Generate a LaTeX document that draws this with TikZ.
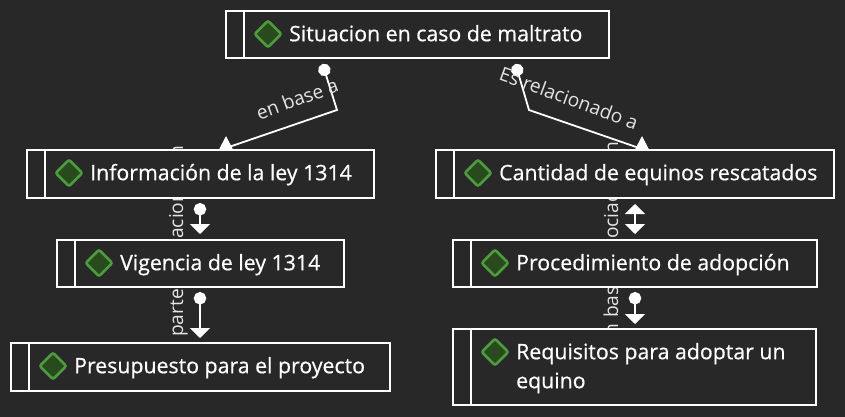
\documentclass[tikz,border=0pt]{standalone}
\usepackage{fontspec}
\setmainfont{Open Sans}
\newfontfamily\topicFont[FakeBold=0.6]{Open Sans}
\usetikzlibrary{arrows.meta}
\usetikzlibrary{shapes.geometric}
\usetikzlibrary{backgrounds}

\definecolor{canvasGray}{HTML}{282828}
\definecolor{iconGreen}{HTML}{4E9A3E}
\definecolor{iconFill}{HTML}{284A1C}
\definecolor{labelGray}{HTML}{E4E4E4}

\tikzset{
  topicBox/.style={shape=rectangle,draw=white,fill=canvasGray,line width=2pt,
    inner sep=0pt,outer sep=0pt,anchor=north west},
  topicIcon/.style={shape=diamond,draw=iconGreen,fill=iconFill,line width=2.6pt,
    inner sep=0pt,outer sep=0pt,minimum size=26.5pt,rounded corners=2pt},
  topicText/.style={text=white,inner sep=0pt,anchor=north west,align=left,
    font=\topicFont\fontsize{21.3pt}{29pt}\selectfont},
  linkLabel/.style={text=labelGray,inner sep=0pt,font=\fontsize{19.2pt}{22pt}\selectfont},
  linkLine/.style={draw=white,line width=1.8pt},
  dotTip/.style={{Circle[length=12.5pt]}-},
  dotArrow/.style={{Circle[length=12.5pt]}-{Triangle[width=20pt,length=10pt]}},
  upTip/.style={-{Triangle[width=13pt,length=13pt]}}
}

\begin{document}
\begin{tikzpicture}[x=1pt,y=-1pt]
\useasboundingbox (0,0) rectangle (845,417);
%% boxes
\foreach \nodeName/\x/\y/\w/\h/\nodeText in {%
  situacion/226/11/383/47/{Situacion en caso de maltrato},
  informacion/27/150/347/48/{Información de la ley 1314},
  vigencia/57/240/287/47/{Vigencia de ley 1314},
  presupuesto/11/343/379/48/{Presupuesto para el proyecto},
  cantidad/436/150/398/48/{Cantidad de equinos rescatados},
  procedimiento/453/240/364/47/{Procedimiento de adopción},
  requisitos/453/329/363/76/{Requisitos para adoptar un\\equino}}
{
  \node[topicBox,minimum width=\w pt,minimum height=\h pt] (\nodeName) at (\x,\y) {};
  \draw[white,line width=2pt] ([xshift=18pt]\nodeName.north west)
    -- ([xshift=18pt]\nodeName.south west);
  \node[topicIcon] (\nodeName Icon) at (\x+42,\y+23) {};
  \node[topicText] (\nodeName Text) at (\x+63,\y+13) {\rule{0pt}{17pt}\nodeText};
}
%% labels cut off by the boxes
\begin{scope}[on background layer]
  \fill[canvasGray] (0,0) rectangle (845,417);
  \node[linkLabel,rotate=90,anchor=base west] (acionLabel) at (183,239) {acion};
  \node[linkLabel,rotate=90,anchor=base east] (acionEnd) at (183,146) {n};
  \node[linkLabel,rotate=90,anchor=base west] (parteLabel) at (183,337) {parte};
  \node[linkLabel,rotate=90,anchor=base west] (ociacLabel) at (618,239) {ociac};
  \node[linkLabel,rotate=90,anchor=base east] (ociacEnd) at (618,142) {n};
  \node[linkLabel,rotate=90,anchor=base west] (basLabel) at (618,318) {bas};
  \node[linkLabel,rotate=90,anchor=base east] (basEnd) at (618,324) {n};
\end{scope}
%% connectors
\coordinate (leftBend) at (337,110);
\coordinate (leftFoot) at (226,148);
\coordinate (leftTip) at (226,136);
\coordinate (rightBend) at (529,110);
\coordinate (rightFoot) at (642,149);
\coordinate (rightTip) at (642,136);
\draw[linkLine,dotTip] ([xshift=-95pt,yshift=-6pt]situacion.south) -- (leftBend) -- (leftFoot);
\draw[linkLine,upTip] (leftFoot) -- (leftTip);
\draw[linkLine,dotTip] ([xshift=98pt,yshift=-6pt]situacion.south) -- (rightBend) -- (rightFoot);
\draw[linkLine,upTip] (rightFoot) -- (rightTip);
\draw[linkLine,dotArrow,shorten <=5pt,shorten >=6pt] (200,0 |- informacion.south) -- (200,0 |- vigencia.north);
\draw[linkLine,dotArrow,shorten <=5pt,shorten >=5pt] (200,0 |- vigencia.south) -- (200,0 |- presupuesto.north);
\draw[linkLine,{Triangle[width=20pt,length=10pt]}-{Triangle[width=20pt,length=10pt]},shorten <=6pt,shorten >=6pt]
  (635,0 |- cantidad.south) -- (635,0 |- procedimiento.north);
\draw[linkLine,dotArrow,shorten <=5pt,shorten >=5pt] (635,0 |- procedimiento.south) -- (635,0 |- requisitos.north);
%% link labels
\node[linkLabel,rotate=20] (baseLabel) at (297,99) {en base a};
\node[linkLabel,rotate=-20] (relacionLabel) at (569,98) {Es relacionado a};
\end{tikzpicture}
\end{document}
